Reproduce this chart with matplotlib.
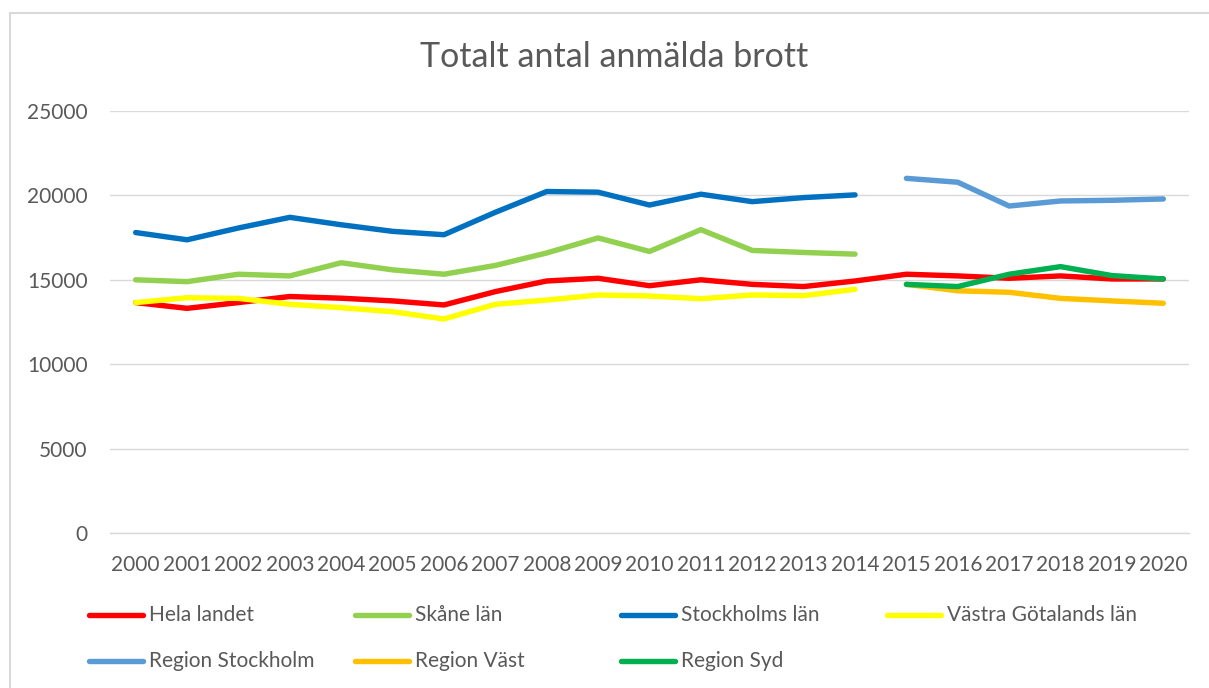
import matplotlib.pyplot as plt
from matplotlib.lines import Line2D

plt.rcParams['font.family'] = ['Lato', 'DejaVu Sans']

years = [2000, 2001, 2002, 2003, 2004, 2005, 2006, 2007, 2008, 2009, 2010,
         2011, 2012, 2013, 2014, 2015, 2016, 2017, 2018, 2019, 2020]
years_lan = years[:15]
years_region = years[15:]

hela_landet = [13650, 13310, 13650, 14010, 13910, 13750, 13510, 14300, 14930, 15090, 14650,
               15000, 14730, 14600, 14930, 15330, 15230, 15090, 15230, 15050, 15050]
skane = [15000, 14890, 15330, 15230, 16010, 15590, 15330, 15850, 16590, 17480, 16680,
         17970, 16740, 16620, 16520]
stockholms_lan = [17800, 17370, 18070, 18700, 18260, 17870, 17670, 19000, 20230, 20190, 19430,
                  20070, 19630, 19870, 20030]
vastra_gotaland = [13650, 13940, 13900, 13550, 13350, 13110, 12680, 13550, 13800, 14100, 14040,
                   13880, 14100, 14060, 14440]
region_stockholm = [21010, 20780, 19370, 19670, 19710, 19790]
region_vast = [14730, 14350, 14260, 13900, 13750, 13610]
region_syd = [14730, 14600, 15330, 15780, 15250, 15050]

series = [
    ('Hela landet', years, hela_landet, '#FF0000'),
    ('Skåne län', years_lan, skane, '#92D050'),
    ('Stockholms län', years_lan, stockholms_lan, '#0070C0'),
    ('Västra Götalands län', years_lan, vastra_gotaland, '#FFFF00'),
    ('Region Stockholm', years_region, region_stockholm, '#5B9BD5'),
    ('Region Väst', years_region, region_vast, '#FFC000'),
    ('Region Syd', years_region, region_syd, '#00B050'),
]

W, H = 1209, 688
grey = '#595959'
gridc = '#D9D9D9'

fig = plt.figure(figsize=(W / 100, H / 100), dpi=100)
ax = fig.add_axes([110 / W, 1 - 533 / H, (1189 - 110) / W, (533 - 111) / H])

for name, x, y, c in series:
    ax.plot(x, y, color=c, lw=3.9, solid_capstyle='round', solid_joinstyle='round')

ax.set_xlim(1999.5, 2020.5)
ax.set_ylim(0, 25000)
ax.set_yticks(range(0, 25001, 5000))
ax.set_xticks(years)
ax.set_xticklabels([str(y) for y in years])
ax.grid(axis='y', color=gridc, lw=1)
ax.set_axisbelow(True)
for s in ['top', 'right', 'left']:
    ax.spines[s].set_visible(False)
ax.spines['bottom'].set_color(gridc)
ax.spines['bottom'].set_linewidth(1)
ax.tick_params(axis='both', length=0, labelsize=15, labelcolor=grey)
ax.tick_params(axis='y', pad=16)
ax.tick_params(axis='x', pad=16)

fig.text(614 / W, 1 - 57 / H, 'Totalt antal anmälda brott', ha='center', va='center',
         fontsize=24.5, color=grey)

# legend laid out like Excel: 4 equal columns, 2 rows
for i, (name, x, y, c) in enumerate(series):
    col, row = i % 4, i // 4
    x0 = 89 + 266 * col
    yy = 1 - (615 + 46 * row) / H
    fig.add_artist(Line2D([x0 / W, (x0 + 54) / W], [yy, yy], color=c, lw=3.9,
                          solid_capstyle='round', transform=fig.transFigure))
    fig.text((x0 + 60) / W, yy, name, ha='left', va='center', fontsize=15, color=grey)

# chart area border
fig.add_artist(Line2D([10 / W, 10 / W], [0, 1 - 13 / H], color=gridc, lw=1.5,
                      transform=fig.transFigure))
fig.add_artist(Line2D([10 / W, 1], [1 - 13 / H, 1 - 13 / H], color=gridc, lw=1.5,
                      transform=fig.transFigure))

fig.savefig('out.png', dpi=100)
